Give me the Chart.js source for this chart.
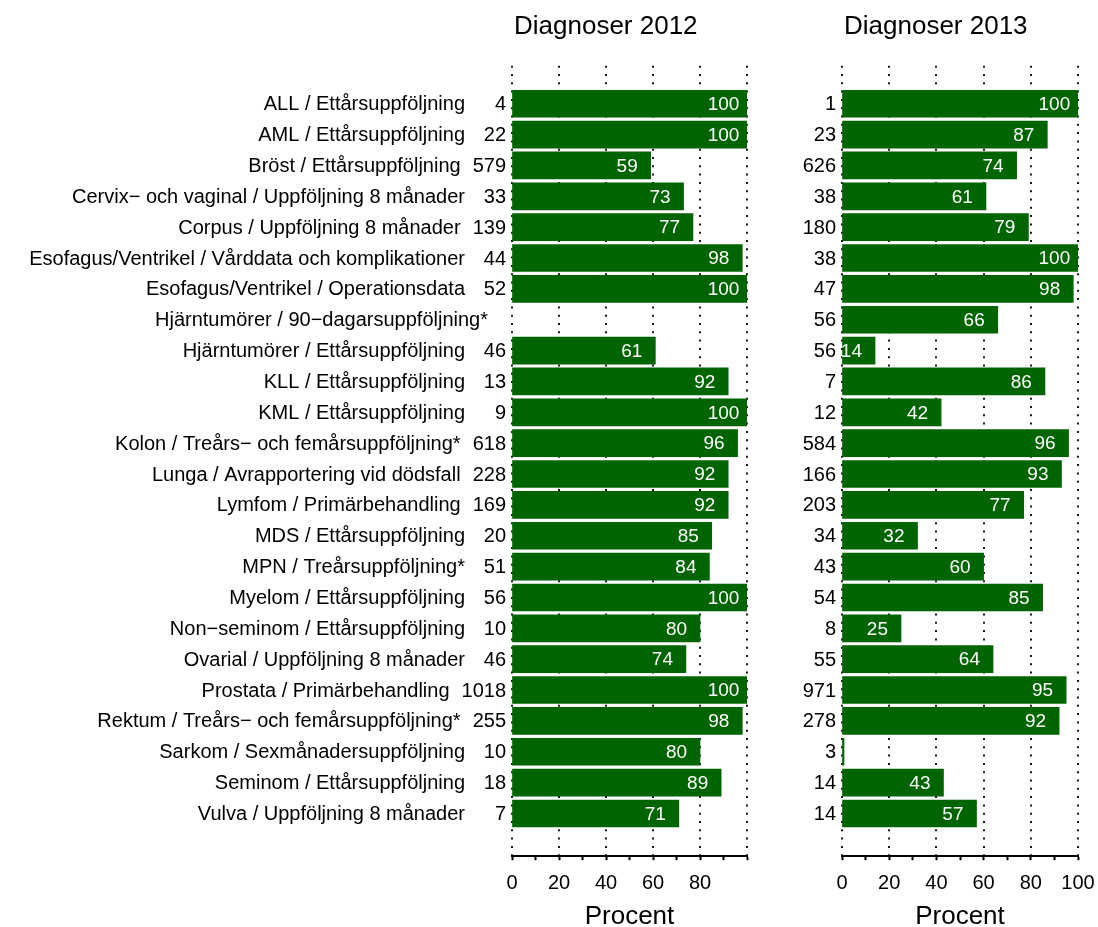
<!DOCTYPE html>
<html><head><meta charset="utf-8">
<script src="https://cdn.jsdelivr.net/npm/chart.js@4"></script>
<style>
html,body{margin:0;padding:0;background:#fff;}
#wrap{position:relative;width:1098px;height:927px;overflow:hidden;background:#fff;}
canvas{position:absolute;top:0;}
#c1{left:0;}
#c2{left:770px;}
</style></head><body>
<div id="wrap"><canvas id="c1" width="770" height="927" style="width:770px;height:927px"></canvas><canvas id="c2" width="346" height="927" style="width:346px;height:927px"></canvas></div>
<script>
const categories = [
  "ALL / Ettårsuppföljning",
  "AML / Ettårsuppföljning",
  "Bröst / Ettårsuppföljning",
  "Cervix− och vaginal / Uppföljning 8 månader",
  "Corpus / Uppföljning 8 månader",
  "Esofagus/Ventrikel / Vårddata och komplikationer",
  "Esofagus/Ventrikel / Operationsdata",
  "Hjärntumörer / 90−dagarsuppföljning*",
  "Hjärntumörer / Ettårsuppföljning",
  "KLL / Ettårsuppföljning",
  "KML / Ettårsuppföljning",
  "Kolon / Treårs− och femårsuppföljning*",
  "Lunga / Avrapportering vid dödsfall",
  "Lymfom / Primärbehandling",
  "MDS / Ettårsuppföljning",
  "MPN / Treårsuppföljning*",
  "Myelom / Ettårsuppföljning",
  "Non−seminom / Ettårsuppföljning",
  "Ovarial / Uppföljning 8 månader",
  "Prostata / Primärbehandling",
  "Rektum / Treårs− och femårsuppföljning*",
  "Sarkom / Sexmånadersuppföljning",
  "Seminom / Ettårsuppföljning",
  "Vulva / Uppföljning 8 månader"
];
const percent2012 = [100,100,59,73,77,98,100,null,61,92,100,96,92,92,85,84,100,80,74,100,98,80,89,71];
const counts2012  = [4,22,579,33,139,44,52,null,46,13,9,618,228,169,20,51,56,10,46,1018,255,10,18,7];
const percent2013 = [100,87,74,61,79,100,98,66,14,86,42,96,93,77,32,60,85,25,64,95,92,0,43,57];
const counts2013  = [1,23,626,38,180,38,47,56,56,7,12,584,166,203,34,43,54,8,55,971,278,3,14,14];
const xTickValues = [0,20,40,60,80,100];
const panelTitles = ["Diagnoser 2012","Diagnoser 2013"];
const axisTitle = "Procent";

const FONT = '"Liberation Sans", Arial, Helvetica, sans-serif';
const GREEN = '#006400';

function panelPlugin(values, counts, title, showCategories) {
  return {
    id: 'panelDeco',
    beforeDatasetsDraw(chart) {
      const ctx = chart.ctx, ca = chart.chartArea, xs = chart.scales.x;
      ctx.save();
      ctx.strokeStyle = '#000';
      ctx.lineWidth = 1.8;
      ctx.setLineDash([2, 6.3]);
      xTickValues.forEach(v => {
        const x = Math.round(xs.getPixelForValue(v));
        ctx.beginPath();
        ctx.moveTo(x, ca.bottom);
        ctx.lineTo(x, ca.top);
        ctx.stroke();
      });
      ctx.restore();
    },
    afterDatasetsDraw(chart) {
      const ctx = chart.ctx, ca = chart.chartArea, xs = chart.scales.x, ys = chart.scales.y;
      ctx.save();
      ctx.beginPath();
      ctx.rect(ca.left, ca.top, ca.right - ca.left, ca.bottom - ca.top);
      ctx.clip();
      ctx.fillStyle = '#fff';
      ctx.font = '19px ' + FONT;
      ctx.textAlign = 'center';
      ctx.textBaseline = 'middle';
      values.forEach((v, i) => {
        if (v === null) return;
        ctx.fillText(String(v), xs.getPixelForValue(v - 10), ys.getPixelForValue(i) + 1);
      });
      ctx.restore();
    },
    afterDraw(chart) {
      const ctx = chart.ctx, ca = chart.chartArea, ys = chart.scales.y;
      ctx.save();
      ctx.fillStyle = '#000';
      ctx.font = '26px ' + FONT;
      ctx.textAlign = 'left';
      ctx.textBaseline = 'alphabetic';
      ctx.fillText(title, ca.left + 2, ca.top - 31);
      ctx.font = '20px ' + FONT;
      ctx.textBaseline = 'middle';
      categories.forEach((c, i) => {
        const y = ys.getPixelForValue(i) + 1;
        const countRight = ca.left - 6;
        let labelRight;
        if (counts[i] !== null) {
          ctx.textAlign = 'right';
          const txt = String(counts[i]);
          ctx.fillText(txt, countRight, y);
          const w = ctx.measureText(txt).width;
          labelRight = Math.min(countRight - w - 12, ca.left - 47);
        } else {
          labelRight = ca.left - 24;
        }
        if (showCategories) {
          ctx.textAlign = 'right';
          ctx.fillText(c, labelRight, y);
        }
      });
      ctx.restore();
    }
  };
}

function makeChart(canvasId, values, counts, title, showCategories, showLastTick, padLeft, padRight) {
  const data = values.map((v, i) => ({x: v, y: i}));
  return new Chart(document.getElementById(canvasId), {
    type: 'bar',
    data: {
      datasets: [{
        data: data,
        backgroundColor: GREEN,
        borderWidth: 0,
        barThickness: 27,
        minBarLength: 2
      }]
    },
    options: {
      indexAxis: 'y',
      responsive: false,
      animation: false,
      devicePixelRatio: 1,
      layout: { padding: { left: padLeft, right: padRight, top: 65, bottom: 0 } },
      plugins: { legend: { display: false }, tooltip: { enabled: false }, title: { display: false } },
      scales: {
        y: {
          type: 'linear',
          reverse: true,
          offset: false,
          grace: 0,
          min: -1.255,
          max: 24.385,
          display: false
        },
        x: {
          type: 'linear',
          min: 0,
          max: 100,
          position: 'bottom',
          grid: { display: true, drawOnChartArea: false, drawTicks: true, tickLength: 4, tickWidth: 2, tickColor: '#000', color: '#000' },
          border: { display: true, color: '#000', width: 2 },
          ticks: {
            stepSize: 10,
            autoSkip: false,
            maxRotation: 0,
            padding: 11,
            color: '#000',
            font: { family: FONT, size: 20, lineHeight: 1.2 },
            callback: (v) => (xTickValues.includes(v) && (showLastTick || v !== 100)) ? String(v) : ''
          },
          title: {
            display: true,
            text: axisTitle,
            color: '#000',
            font: { family: FONT, size: 26, lineHeight: 0.8 },
            padding: { top: 0, bottom: 0 }
          }
        }
      }
    },
    plugins: [panelPlugin(values, counts, title, showCategories)]
  });
}

makeChart('c1', percent2012, counts2012, panelTitles[0], true, false, 512, 23);
makeChart('c2', percent2013, counts2013, panelTitles[1], false, true, 72, 38);
</script>
</body></html>
